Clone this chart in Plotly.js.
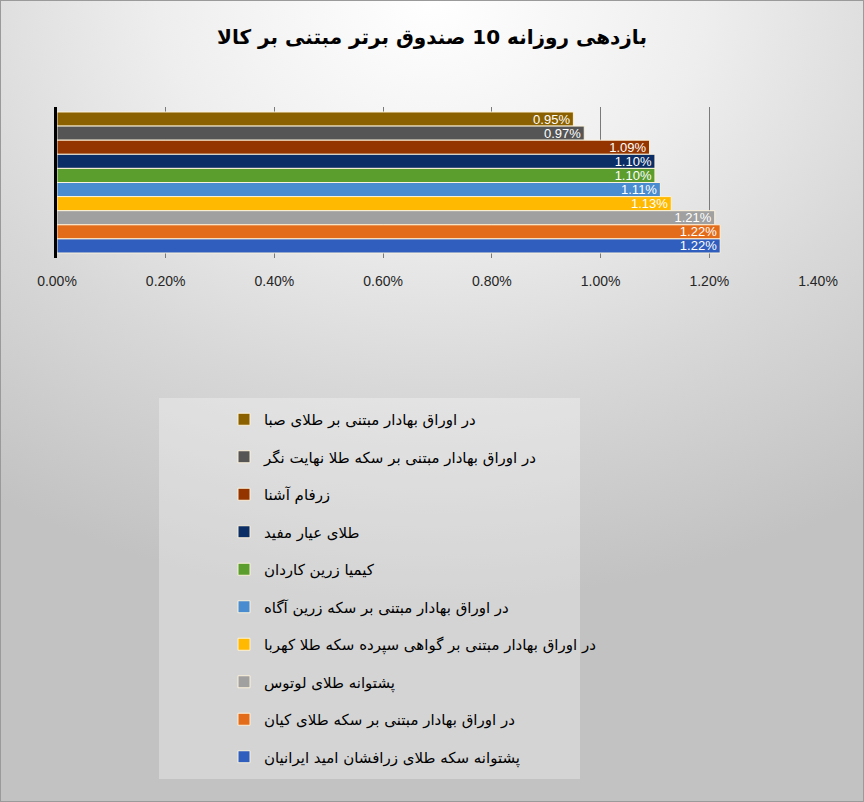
<!DOCTYPE html>
<html>
<head>
<meta charset="utf-8">
<script src="https://cdn.plot.ly/plotly-3.0.1.min.js"></script>
<style>
  html, body { margin: 0; padding: 0; }
  #wrap { position: relative; width: 864px; height: 802px; overflow: hidden;
    background: radial-gradient(ellipse 90% 75% at 50% 0%, #ffffff 0%, #eeeeee 35%, #d8d8d8 65%, #c2c2c2 100%); }
  #chart { width: 864px; height: 802px; }
  #frame { position: absolute; left: 0; top: 0; width: 862px; height: 800px; border: 1px solid #9a9a9a; pointer-events: none; }
</style>
</head>
<body>
<div id="wrap"><div id="chart"></div><div id="frame"></div></div>
<script>
const funds = [
  "در اوراق بهادار مبتنی بر طلای صبا",
  "در اوراق بهادار مبتنی بر سکه طلا نهایت نگر",
  "زرفام آشنا",
  "طلای عیار مفید",
  "کیمیا زرین کاردان",
  "در اوراق بهادار مبتنی بر سکه زرین آگاه",
  "در اوراق بهادار مبتنی بر گواهی سپرده سکه طلا کهربا",
  "پشتوانه طلای لوتوس",
  "در اوراق بهادار مبتنی بر سکه طلای کیان",
  "پشتوانه سکه طلای زرافشان امید ایرانیان"
];
const returns = [0.95, 0.97, 1.09, 1.10, 1.10, 1.11, 1.13, 1.21, 1.22, 1.22];
const colors = ["#8B6100", "#555555", "#943500", "#0C2E66", "#5B9E2E", "#4A8CD0", "#FFB900", "#A0A0A0", "#E36C1B", "#2F5EBF"];
const xTicks = [0, 0.2, 0.4, 0.6, 0.8, 1.0, 1.2, 1.4];
const xTickText = ["0.00%", "0.20%", "0.40%", "0.60%", "0.80%", "1.00%", "1.20%", "1.40%"];
const titleText = "بازدهی روزانه 10 صندوق برتر مبتنی بر کالا";

const traces = funds.map((name, i) => ({
  type: "bar",
  orientation: "h",
  name: name,
  legendgroup: "g" + i,
  y: [name],
  x: [returns[i]],
  marker: { color: colors[i], line: { color: "rgba(255,244,220,0.95)", width: 1 } },
  texttemplate: "%{x:.2f}%",
  textposition: "inside",
  insidetextanchor: "end",
  constraintext: "none",
  textfont: { color: "#ffffff", size: 13, family: "Liberation Sans Narrow, Liberation Sans, Arial, sans-serif" },
  hoverinfo: "x+name"
}));

// plot area: x 57..818, y 107..258
const L = 57, R = 818, T = 107, B = 258;
const px = v => (v - L) / (R - L);
const py = v => (B - v) / (B - T);

const layout = {
  width: 864, height: 802,
  margin: { l: L, r: 864 - R, t: T, b: 802 - B, pad: 0, autoexpand: false },
  paper_bgcolor: "rgba(0,0,0,0)",
  plot_bgcolor: "rgba(0,0,0,0)",
  barmode: "overlay",
  bargap: 0,
  showlegend: true,
  title: {
    text: titleText,
    x: 0.5, xref: "container", xanchor: "center",
    y: 1 - 37 / 802, yref: "container", yanchor: "middle",
    font: { family: "DejaVu Sans, sans-serif", size: 20, color: "#000000", weight: "bold" }
  },
  xaxis: {
    range: [0, 1.4], autorange: false,
    tickvals: xTicks, ticktext: xTickText, tickangle: 0,
    showgrid: true, gridcolor: "#7a7a7a", gridwidth: 1,
    zeroline: false, showline: false, ticks: "",
    ticklabelstandoff: 13,
    tickfont: { family: "Liberation Sans Narrow, Liberation Sans, Arial, sans-serif", size: 14, color: "#262626" },
    fixedrange: true
  },
  yaxis: {
    type: "category",
    categoryorder: "array", categoryarray: funds,
    range: [9.855, -0.855], autorange: false,
    showticklabels: false, ticks: "",
    showgrid: false, zeroline: false,
    showline: true, linecolor: "#000000", linewidth: 3,
    fixedrange: true
  },
  legend: {
    xref: "container", yref: "container",
    x: 224 / 864, xanchor: "left",
    y: 1 - 403 / 802, yanchor: "top",
    bgcolor: "rgba(0,0,0,0)",
    borderwidth: 0,
    traceorder: "grouped",
    tracegroupgap: 15,
    font: { family: "DejaVu Sans, sans-serif", size: 15, color: "#000000" }
  },
  shapes: [{
    type: "rect", xref: "paper", yref: "paper", layer: "below",
    x0: px(159), x1: px(580), y0: py(398), y1: py(779),
    fillcolor: "rgba(255,255,255,0.3)", line: { width: 0 }
  }]
};

Plotly.newPlot("chart", traces, layout, { displayModeBar: false, staticPlot: true });
</script>
</body>
</html>
